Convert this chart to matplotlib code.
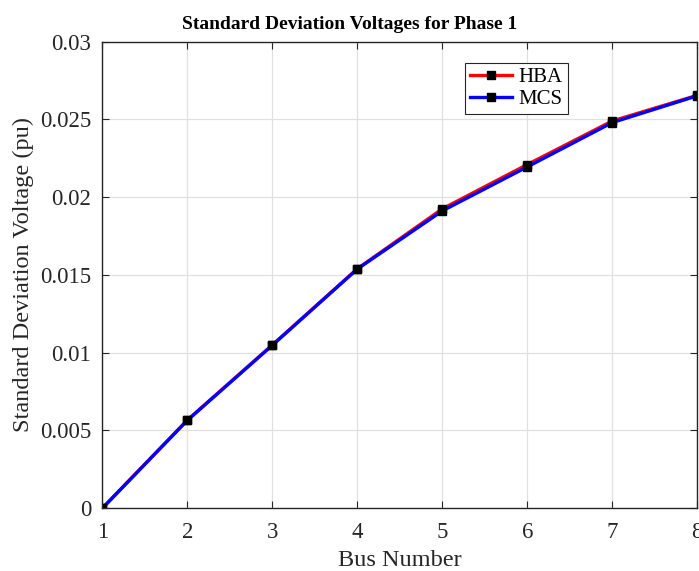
import matplotlib
matplotlib.use("Agg")
import matplotlib.pyplot as plt

bus = [1, 2, 3, 4, 5, 6, 7, 8]
hba = [0.0, 0.00567, 0.01050, 0.01540, 0.01925, 0.02210, 0.02490, 0.02655]
mcs = [0.0, 0.00565, 0.01048, 0.01538, 0.01912, 0.02195, 0.02480, 0.02652]
xticks = [1, 2, 3, 4, 5, 6, 7, 8]
yticks = [0, 0.005, 0.01, 0.015, 0.02, 0.025, 0.03]
yticklabels = ["0", "0.005", "0.01", "0.015", "0.02", "0.025", "0.03"]

plt.rcParams['font.family'] = ['Liberation Serif', 'DejaVu Serif']

fig = plt.figure(figsize=(6.99, 5.71), dpi=100)
ax = fig.add_axes([0.1465, 0.110, 0.851, 0.817])

ax.plot(bus, hba, color='red', lw=2.4, marker='s', ms=6, mfc='black', mec='black', label='HBA')
ax.plot(bus, mcs, color='blue', lw=2.4, marker='s', ms=6, mfc='black', mec='black', label='MCS')

ax.set_xlim(1, 8)
ax.set_ylim(0, 0.03)
ax.set_xticks(xticks)
ax.set_yticks(yticks)
ax.set_yticklabels(yticklabels)
ax.tick_params(direction='in', labelsize=16.5, length=5, colors='#262626', top=True, right=True)
ax.tick_params(axis='x', pad=10)
ax.tick_params(axis='y', pad=8)
for s in ax.spines.values():
    s.set_color('#262626')
    s.set_linewidth(1.0)
ax.grid(True, color='#e0e0e0', lw=0.9)
ax.set_axisbelow(True)

ax.set_xlabel('Bus Number', fontsize=17.5, color='#262626', labelpad=5)
ax.set_ylabel('Standard Deviation Voltage (pu)', fontsize=17.5, color='#262626', labelpad=4)
fig.text(0.5, 1 - 29 / 571, 'Standard Deviation Voltages for Phase 1', fontsize=14,
         fontweight='bold', ha='center', va='baseline')

leg = ax.legend(loc='upper left', bbox_to_anchor=(0.61, 0.955), fontsize=15, frameon=True,
                fancybox=False, edgecolor='#262626', framealpha=1, handlelength=2.0,
                handletextpad=0.3, borderpad=0.25, labelspacing=0.1, borderaxespad=0)
leg.get_frame().set_linewidth(0.8)

fig.savefig('out.png', dpi=100)
